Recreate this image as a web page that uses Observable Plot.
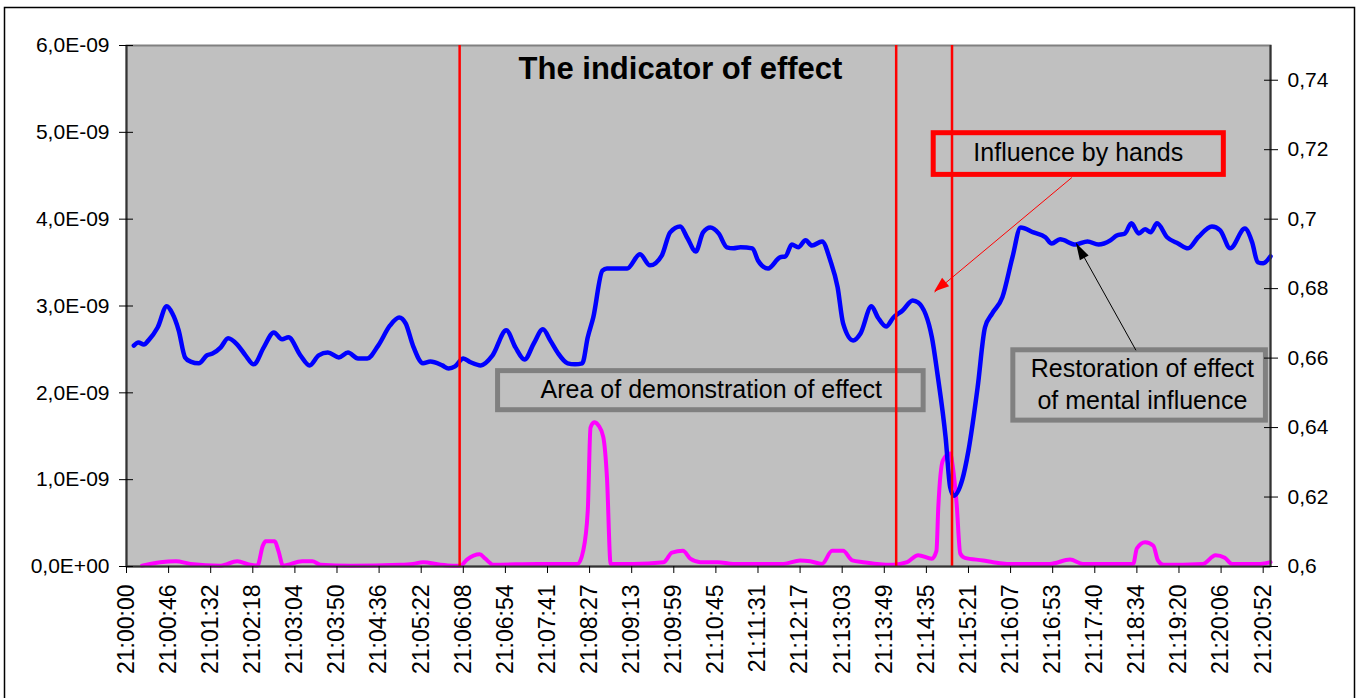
<!DOCTYPE html>
<html><head><meta charset="utf-8">
<script src="https://cdn.jsdelivr.net/npm/d3@7"></script>
<script src="https://cdn.jsdelivr.net/npm/@observablehq/plot@0.6"></script>
<style>body{margin:0;background:#fff} #chart svg{display:block}</style>
</head><body><div id="chart"></div>
<script>
// ---- data ----
const tickLabels = ["21:00:00","21:00:46","21:01:32","21:02:18","21:03:04","21:03:50","21:04:36","21:05:22","21:06:08","21:06:54","21:07:41","21:08:27","21:09:13","21:09:59","21:10:45","21:11:31","21:12:17","21:13:03","21:13:49","21:14:35","21:15:21","21:16:07","21:16:53","21:17:40","21:18:34","21:19:20","21:20:06","21:20:52"];
const samplesPerTick = 46;
const lastSample = 1250;

const leftTicks = [0, 1, 2, 3, 4, 5, 6];            // units of 1E-09
const leftTickLabels = ["0,0E+00","1,0E-09","2,0E-09","3,0E-09","4,0E-09","5,0E-09","6,0E-09"];
const rightTicks = [0.6, 0.62, 0.64, 0.66, 0.68, 0.7, 0.72, 0.74];
const rightTickLabels = ["0,6","0,62","0,64","0,66","0,68","0,7","0,72","0,74"];
const rightMin = 0.6, rightMax = 0.75, leftMax = 6;

// blue series (secondary axis)
const blueX = [8,13,19,24,34,44,50,57,64,70,79,88,94,103,111,121,130,139,150,161,170,177,190,200,210,220,232,242,253,263,275,288,298,305,313,324,332,345,352,359,368,376,387,400,415,425,435,445,455,463,471,482,490,498,504,510,520,525,547,561,572,585,594,605,613,622,630,638,647,656,663,671,684,690,701,714,720,727,734,742,749,760,769,777,783,794,802,814,821,830,838,848,859,865,880,886,895,900,904,913,920,930,938,946,957,968,977,991,1004,1011,1020,1037,1050,1062,1075,1082,1091,1098,1106,1113,1119,1126,1137,1149,1160,1171,1186,1195,1206,1222,1230,1236,1242,1250];
const blueY = [0.6636,0.6645,0.6639,0.6651,0.6688,0.6749,0.6729,0.668,0.6602,0.659,0.6585,0.6608,0.6613,0.6631,0.6657,0.6639,0.6608,0.6582,0.6631,0.6674,0.6654,0.666,0.6608,0.6579,0.6608,0.6616,0.6602,0.6616,0.6599,0.6599,0.6636,0.6694,0.6717,0.67,0.6636,0.6585,0.659,0.6579,0.657,0.6576,0.6599,0.6588,0.6579,0.6608,0.668,0.6631,0.6596,0.6642,0.6683,0.6651,0.6616,0.6585,0.6582,0.6585,0.666,0.6717,0.6852,0.6858,0.6858,0.6899,0.6867,0.6896,0.6962,0.6979,0.6945,0.6907,0.6962,0.6976,0.6959,0.6919,0.6916,0.6919,0.6916,0.6881,0.6858,0.689,0.6893,0.6927,0.6919,0.6939,0.6924,0.6936,0.6881,0.6804,0.67,0.6651,0.6671,0.6749,0.6717,0.6691,0.6717,0.6737,0.6766,0.676,0.666,0.6556,0.6372,0.6228,0.6204,0.6248,0.6334,0.6516,0.6688,0.6729,0.6775,0.689,0.6976,0.6962,0.6948,0.693,0.6942,0.6927,0.6936,0.6927,0.6939,0.6953,0.6959,0.6988,0.6959,0.6971,0.6962,0.6988,0.6948,0.693,0.6916,0.6948,0.6979,0.6968,0.6916,0.6973,0.6933,0.6876,0.6873,0.6893];

// magenta series (primary axis, units of 1E-09)
const pinkX = [17,37,54,70,103,121,135,143,149,152,162,166,171,192,203,212,245,299,313,324,343,357,365,372,386,392,401,449,463,493,499,504,507,511,516,521,525,529,554,587,596,608,616,627,646,663,718,736,747,760,771,783,793,805,820,838,853,865,880,885,887,892,900,903,907,911,916,936,947,962,1009,1031,1045,1100,1104,1113,1122,1127,1133,1176,1190,1200,1208,1239,1250];
const pinkY = [0.01,0.05,0.06,0.03,0.01,0.06,0.02,0.01,0.24,0.29,0.29,0.18,0.01,0.06,0.06,0.02,0.01,0.02,0.03,0.05,0.02,0.01,0.01,0.08,0.14,0.09,0.02,0.03,0.03,0.03,0.18,0.64,1.60,1.66,1.62,1.49,1.02,0.03,0.03,0.05,0.16,0.18,0.09,0.05,0.05,0.03,0.03,0.07,0.06,0.03,0.18,0.18,0.07,0.05,0.03,0.02,0.05,0.13,0.09,0.18,0.68,1.22,1.30,1.14,0.73,0.15,0.10,0.07,0.05,0.03,0.03,0.08,0.03,0.03,0.21,0.28,0.24,0.07,0.02,0.03,0.13,0.10,0.03,0.03,0.05];

// vertical event markers (sample index)
const eventX = [364, 841, 902];

// annotations
const titleText = "The indicator of effect";
const boxes = [
  {x1: 882, x2: 1199, y1: 4.51, y2: 4.99, color: "#FF0000"},
  {x1: 406, x2: 871, y1: 1.80, y2: 2.25, color: "#808080"},
  {x1: 969, x2: 1245, y1: 1.68, y2: 2.49, color: "#808080"}
];
const notes = [
  {x: 1040, y: 4.785, text: "Influence by hands"},
  {x: 639, y: 2.05, text: "Area of demonstration of effect"},
  {x: 1110, y: 2.113, text: "Restoration of effect\nof mental influence"}
];
const arrows = [
  {x1: 1033, y1: 4.48, x2: 883, y2: 3.16, color: "#FF0000", len: 15, half: 5.5},
  {x1: 1103, y1: 2.49, x2: 1038, y2: 3.72, color: "#000000", len: 17, half: 5}
];

// ---- build ----
const toLeft = v => (v - rightMin) / (rightMax - rightMin) * leftMax;
const blue = blueX.map((x, i) => ({x, y: toLeft(blueY[i])}));
const pink = pinkX.map((x, i) => ({x, y: pinkY[i]}));
const xTicks = tickLabels.map((_, i) => i * samplesPerTick);
const rightTickPos = rightTicks.map(toLeft);

const font = "'Liberation Sans', Arial, sans-serif";

const chart = Plot.plot({
  width: 1358,
  height: 698,
  marginLeft: 126,
  marginRight: 88,
  marginTop: 45,
  marginBottom: 132,
  style: {fontFamily: font, color: "#000", background: "#fff"},
  x: {domain: [0, lastSample]},
  y: {domain: [0, leftMax]},
  marks: [
    Plot.frame({fill: "#C0C0C0", stroke: "#808080", strokeWidth: 2}),
    Plot.rect(boxes, {x1: "x1", x2: "x2", y1: "y1", y2: "y2", stroke: "color", strokeWidth: 5, fill: "none"}),
    Plot.line(pink, {x: "x", y: "y", stroke: "#FF00FF", strokeWidth: 4, curve: "monotone-x"}),
    Plot.line(blue, {x: "x", y: "y", stroke: "#0000FF", strokeWidth: 4.5, curve: "monotone-x"}),
    Plot.ruleX(eventX, {stroke: "#FF0000", strokeWidth: 2.5}),
    Plot.ruleX([0, lastSample], {stroke: "#333", strokeWidth: 2}),
    Plot.ruleY([0], {stroke: "#333", strokeWidth: 2}),
    Plot.link(arrows, {x1: "x1", y1: "y1", x2: "x2", y2: "y2", stroke: "color", strokeWidth: 1}),
    Plot.text(notes, {x: "x", y: "y", text: "text", fontSize: 25, lineHeight: 1.25, lineAnchor: "middle", textAnchor: "middle", fill: "#000"}),
    Plot.text([titleText], {frameAnchor: "top", dx: -18, dy: 24, lineAnchor: "middle", fontSize: 31, fontWeight: "bold", fill: "#000"}),
    Plot.axisY({anchor: "left", ticks: leftTicks, tickFormat: d => leftTickLabels[leftTicks.indexOf(d)], tickSize: 7, tickPadding: 10, fontSize: 21, label: null}),
    Plot.axisY({anchor: "left", ticks: leftTicks, tickSize: -7, text: null, label: null}),
    Plot.axisY({anchor: "right", ticks: rightTickPos, tickFormat: d => rightTickLabels[rightTickPos.findIndex(t => Math.abs(t - d) < 1e-9)], tickSize: 7, tickPadding: 10, fontSize: 21, label: null}),
    Plot.axisY({anchor: "right", ticks: rightTickPos, tickSize: -7, text: null, label: null}),
    Plot.axisX({ticks: xTicks, tickFormat: d => tickLabels[Math.round(d / samplesPerTick)], tickRotate: -90, tickSize: 7, tickPadding: 11, fontSize: 23, label: null})
  ]
});

// arrowheads and outer chart border
const sx = chart.scale("x"), sy = chart.scale("y");
const svg = d3.select(chart);
for (const a of arrows) {
  const fx = sx.apply(a.x1), fy = sy.apply(a.y1);
  const tx = sx.apply(a.x2), ty = sy.apply(a.y2);
  const dx = tx - fx, dy = ty - fy, L = Math.hypot(dx, dy);
  const ux = dx / L, uy = dy / L;
  const bx = tx - ux * a.len, by = ty - uy * a.len;
  const px = -uy * a.half, py = ux * a.half;
  svg.append("path")
    .attr("d", `M${tx},${ty}L${bx + px},${by + py}L${bx - px},${by - py}Z`)
    .attr("fill", a.color);
}
svg.append("rect")
  .attr("x", 4.5).attr("y", 7.5).attr("width", 1350).attr("height", 720)
  .attr("fill", "none").attr("stroke", "#000").attr("stroke-width", 1.5);

document.getElementById("chart").appendChild(chart);
</script>
</body></html>
